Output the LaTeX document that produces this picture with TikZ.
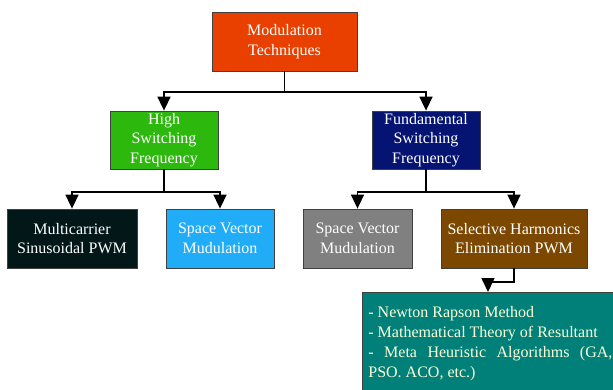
\documentclass[tikz,border=0pt]{standalone}
\usepackage{fontspec}
\setmainfont{Liberation Serif}
\usetikzlibrary{arrows.meta}
\definecolor{cTop}{RGB}{233,64,0}
\definecolor{cGreen}{RGB}{44,184,12}
\definecolor{cNavy}{RGB}{5,20,115}
\definecolor{cBlack}{RGB}{2,24,24}
\definecolor{cLBlue}{RGB}{33,172,248}
\definecolor{cGray}{RGB}{128,128,128}
\definecolor{cBrown}{RGB}{124,72,0}
\definecolor{cTeal}{RGB}{0,128,120}
\definecolor{cTealText}{RGB}{255,255,215}
\tikzset{
  box/.style={draw=black!75, line width=0.8pt, text=white, align=center,
    inner sep=1pt, minimum height=58pt,
    font=\fontsize{16}{19.5}\selectfont},
  conn/.style={line width=1.6pt, black},
  arr/.style={conn, -{Triangle[width=13pt,length=14pt]}},
}
\begin{document}
\begin{tikzpicture}[x=1pt,y=-1pt]
\useasboundingbox (0,0) rectangle (613,389);
\clip (0,0) rectangle (613,389);
\node[box, fill=cTop, minimum width=145pt, minimum height=59pt] (top) at (284.5,41.5) {Modulation\\Techniques};
\node[box, fill=cGreen, minimum width=108pt] (high) at (164,140) {High\\Switching\\Frequency};
\node[box, fill=cNavy, minimum width=108pt] (fund) at (426,140) {Fundamental\\Switching\\Frequency};
\node[box, fill=cBlack, minimum width=130pt, minimum height=59pt] (multi) at (72,238.5) {Multicarrier\\Sinusoidal PWM};
\node[box, fill=cLBlue, minimum width=108pt, minimum height=59pt] (svm1) at (220,238.5) {Space Vector\\Mudulation};
\node[box, fill=cGray, minimum width=109pt, minimum height=59pt] (svm2) at (357.5,238.5) {Space Vector\\Mudulation};
\node[box, fill=cBrown, minimum width=146pt, minimum height=59pt] (she) at (514,238.5) {Selective Harmonics\\Elimination PWM};
\node[draw=black!75, line width=0.8pt, fill=cTeal, text=cTealText, anchor=north west,
  text width=244pt, align=justify, inner xsep=6pt, inner ysep=14pt,
  font=\fontsize{16}{20}\selectfont] (list) at (362,292)
  {- Newton Rapson Method\\- Mathematical Theory of Resultant\\- Meta Heuristic Algorithms (GA, PSO. ACO, etc.)};
\coordinate (j1) at (284.5,92);
\coordinate (j2) at (164,192);
\coordinate (j3) at (426,192);
\coordinate (j4) at (488,282);
\draw[conn] (top.south) -- (j1);
\draw[arr] (j1) -| (high.north);
\draw[arr] (j1) -| (fund.north);
\draw[conn] (high.south) -- (j2);
\draw[arr] (j2) -| (multi.north);
\draw[arr] (j2) -| (svm1.north);
\draw[conn] (fund.south) -- (j3);
\draw[arr] (j3) -| (svm2.north);
\draw[arr] (j3) -| (she.north);
\draw[arr] (she.south) |- (j4) -- (list.north -| j4);
\end{tikzpicture}
\end{document}
